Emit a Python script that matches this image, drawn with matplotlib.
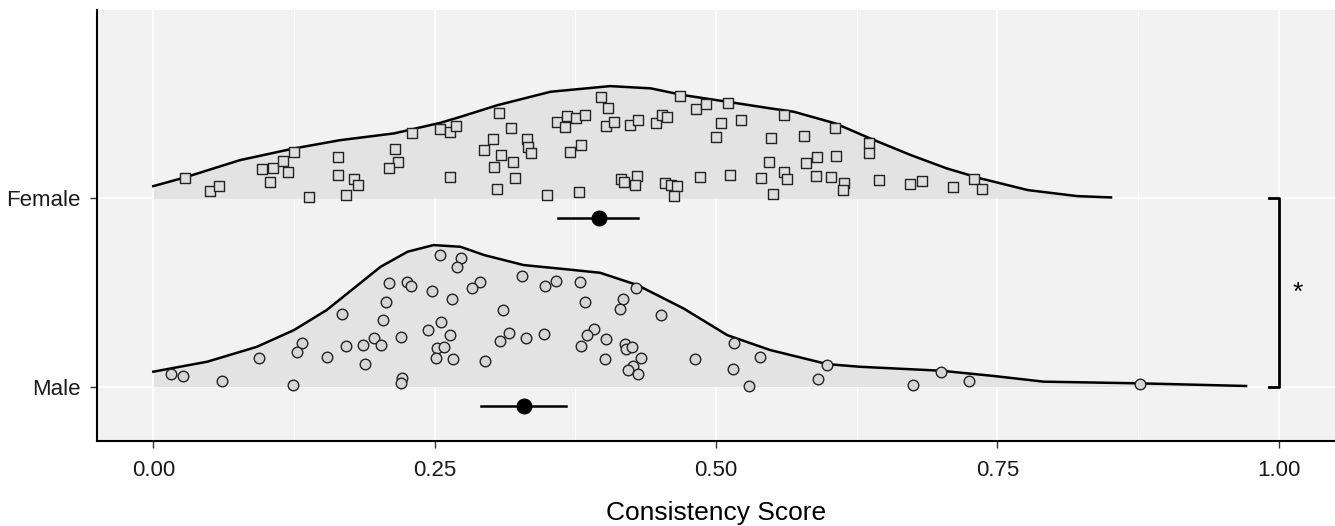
import numpy as np
import matplotlib
matplotlib.use('Agg')
from matplotlib import pyplot as plt

plt.rcParams['font.family'] = ['Liberation Sans', 'DejaVu Sans']

# Density outlines (half violins)
female_dens_x = [0.0, 0.028, 0.077, 0.125, 0.166, 0.214, 0.255, 0.273, 0.306, 0.353, 0.406,
                 0.442, 0.471, 0.51, 0.548, 0.569, 0.606, 0.637, 0.673, 0.705, 0.735, 0.777,
                 0.821, 0.851]
female_dens_h = [0.065, 0.111, 0.203, 0.265, 0.309, 0.345, 0.401, 0.433, 0.495, 0.566, 0.596,
                 0.584, 0.548, 0.513, 0.478, 0.46, 0.398, 0.318, 0.23, 0.159, 0.106, 0.044,
                 0.012, 0.005]
male_dens_x = [0.0, 0.048, 0.092, 0.125, 0.154, 0.178, 0.202, 0.226, 0.249, 0.273, 0.294,
               0.329, 0.368, 0.397, 0.43, 0.471, 0.51, 0.548, 0.599, 0.628, 0.70, 0.747,
               0.791, 0.877, 0.971]
male_dens_h = [0.080, 0.133, 0.212, 0.301, 0.407, 0.522, 0.637, 0.717, 0.752, 0.743, 0.699,
               0.646, 0.623, 0.605, 0.54, 0.416, 0.274, 0.195, 0.12, 0.106, 0.085, 0.057,
               0.027, 0.018, 0.004]

# Individual scores and their vertical jitter above the baseline
female_x = [0.028, 0.050, 0.058, 0.097, 0.106, 0.115, 0.120, 0.104, 0.125, 0.138, 0.164, 0.164,
            0.171, 0.178, 0.182, 0.215, 0.217, 0.209, 0.230, 0.255, 0.264, 0.269, 0.264, 0.307,
            0.318, 0.302, 0.294, 0.309, 0.320, 0.303, 0.321, 0.305, 0.332, 0.333, 0.336, 0.350,
            0.359, 0.366, 0.368, 0.376, 0.384, 0.370, 0.380, 0.378, 0.398, 0.404, 0.402, 0.409,
            0.424, 0.431, 0.447, 0.452, 0.456, 0.416, 0.418, 0.430, 0.428, 0.455, 0.460, 0.465,
            0.463, 0.468, 0.482, 0.491, 0.511, 0.504, 0.522, 0.500, 0.486, 0.512, 0.540, 0.549,
            0.547, 0.560, 0.578, 0.560, 0.563, 0.551, 0.580, 0.590, 0.607, 0.606, 0.589, 0.602,
            0.614, 0.613, 0.636, 0.636, 0.645, 0.672, 0.683, 0.711, 0.729, 0.736]
female_jit = [0.109, 0.040, 0.067, 0.154, 0.162, 0.200, 0.141, 0.085, 0.246, 0.005, 0.219, 0.125,
              0.019, 0.102, 0.071, 0.263, 0.193, 0.162, 0.345, 0.366, 0.350, 0.386, 0.113, 0.451,
              0.375, 0.313, 0.258, 0.228, 0.193, 0.166, 0.109, 0.051, 0.315, 0.274, 0.239, 0.019,
              0.407, 0.377, 0.438, 0.425, 0.441, 0.244, 0.285, 0.035, 0.539, 0.479, 0.384, 0.405,
              0.387, 0.414, 0.398, 0.442, 0.430, 0.104, 0.087, 0.118, 0.071, 0.083, 0.071, 0.065,
              0.011, 0.543, 0.472, 0.500, 0.507, 0.401, 0.416, 0.324, 0.115, 0.125, 0.110, 0.323,
              0.193, 0.442, 0.332, 0.141, 0.101, 0.023, 0.189, 0.218, 0.225, 0.375, 0.118, 0.113,
              0.080, 0.044, 0.295, 0.239, 0.096, 0.074, 0.092, 0.058, 0.101, 0.048]
male_x = [0.016, 0.026, 0.061, 0.094, 0.124, 0.132, 0.128, 0.154, 0.168, 0.171, 0.186, 0.188,
          0.196, 0.202, 0.204, 0.207, 0.209, 0.225, 0.229, 0.220, 0.221, 0.220, 0.248, 0.255,
          0.273, 0.270, 0.265, 0.244, 0.256, 0.264, 0.252, 0.258, 0.251, 0.266, 0.290, 0.283,
          0.311, 0.316, 0.308, 0.295, 0.328, 0.348, 0.358, 0.331, 0.347, 0.379, 0.384, 0.417,
          0.415, 0.429, 0.451, 0.392, 0.385, 0.402, 0.380, 0.401, 0.419, 0.420, 0.425, 0.433,
          0.426, 0.422, 0.431, 0.481, 0.516, 0.515, 0.529, 0.539, 0.599, 0.591, 0.675, 0.700,
          0.725, 0.877]
male_jit = [0.066, 0.058, 0.030, 0.151, 0.011, 0.232, 0.184, 0.156, 0.384, 0.214, 0.223, 0.119,
            0.257, 0.223, 0.352, 0.451, 0.549, 0.556, 0.533, 0.265, 0.045, 0.018, 0.510, 0.699,
            0.682, 0.637, 0.465, 0.303, 0.342, 0.273, 0.204, 0.212, 0.154, 0.147, 0.557, 0.522,
            0.407, 0.283, 0.241, 0.136, 0.588, 0.535, 0.559, 0.257, 0.278, 0.554, 0.450, 0.465,
            0.414, 0.524, 0.381, 0.305, 0.274, 0.255, 0.214, 0.147, 0.228, 0.199, 0.211, 0.154,
            0.110, 0.089, 0.066, 0.149, 0.234, 0.096, 0.005, 0.156, 0.117, 0.039, 0.011, 0.078,
            0.030, 0.014]

# Group means with confidence intervals
female_mean, female_ci = 0.396, (0.360, 0.431)
male_mean, male_ci = 0.329, (0.291, 0.367)

groups = ['Male', 'Female']
base = {'Male': 1, 'Female': 2}

fig = plt.figure(figsize=(13.35, 5.26), dpi=100)
ax = fig.add_axes([0.0727, 0.1616, 0.9273, 0.8194])
ax.set_facecolor('#f2f2f2')

# half violins
for g, dx, dh in [('Female', female_dens_x, female_dens_h), ('Male', male_dens_x, male_dens_h)]:
    y0 = base[g]
    top = [y0 + h for h in dh]
    ax.fill_between(dx, y0, top, color='#e3e3e3', lw=0, zorder=2)
    ax.plot(dx, top, color='black', lw=1.8, zorder=3, solid_joinstyle='round')

# raw points
ax.scatter(female_x, [2 + j for j in female_jit], marker='s', s=48,
           facecolor='#dedede', edgecolor='#222222', linewidths=1.0, zorder=4)
ax.scatter(male_x, [1 + j for j in male_jit], marker='o', s=58,
           facecolor='#d6d6d6', edgecolor='#222222', linewidths=1.0, zorder=4)

# mean and CI below each cloud
for y0, m, ci in [(2, female_mean, female_ci), (1, male_mean, male_ci)]:
    ax.plot(ci, [y0 - 0.103, y0 - 0.103], color='black', lw=1.8, zorder=5)
    ax.plot(m, y0 - 0.103, 'o', color='black', ms=10.5, zorder=6)

# significance bracket
ax.plot([0.991, 1.0, 1.0, 0.991], [2, 2, 1, 1], color='black', lw=2, zorder=5)
ax.text(1.017, 1.5, '*', ha='center', va='center', fontsize=19)

ax.set_xlim(-0.05, 1.05)
ax.set_ylim(0.712, 3.0)
ax.set_xticks([0, 0.25, 0.5, 0.75, 1.0])
ax.set_xticklabels(['0.00', '0.25', '0.50', '0.75', '1.00'])
ax.set_xticks([0.125, 0.375, 0.625, 0.875], minor=True)
ax.set_yticks([1, 2])
ax.set_yticklabels(groups)
ax.grid(True, which='major', color='white', lw=1.3, zorder=0)
ax.grid(True, which='minor', axis='x', color='white', lw=0.7, zorder=0)
ax.set_axisbelow(True)
ax.tick_params(axis='both', which='major', length=5, width=1, color='#333333',
               labelsize=16, labelcolor='#1a1a1a', pad=7)
ax.tick_params(axis='x', which='major', pad=9)
ax.tick_params(axis='x', which='minor', length=0)
for s in ['top', 'right']:
    ax.spines[s].set_visible(False)
for s in ['left', 'bottom']:
    ax.spines[s].set_color('black')
    ax.spines[s].set_linewidth(1.5)
ax.set_xlabel('Consistency Score', fontsize=19, labelpad=14)

plt.savefig('out.png', dpi=100)
